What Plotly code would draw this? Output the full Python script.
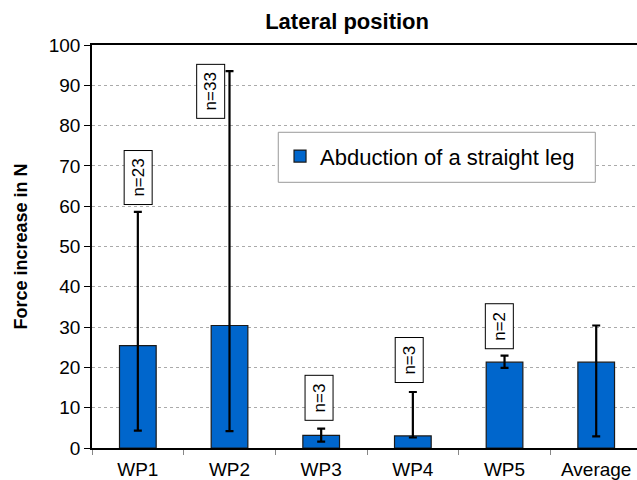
import plotly.graph_objects as go

categories = ["WP1", "WP2", "WP3", "WP4", "WP5", "Average"]
values = [25.4, 30.4, 3.15, 3.0, 21.3, 21.3]
err_upper = [58.6, 93.5, 4.8, 13.9, 22.9, 30.4]
err_lower = [4.3, 4.2, 1.6, 2.6, 19.9, 2.9]
n_labels = ["n=23", "n=33", "n=3", "n=3", "n=2"]
n_label_y = [67.2, 88.5, 12.5, 21.8, 30.1]
n_label_shift = [0, -19, -2, -4, -5]
series_name = "Abduction of a straight leg"
yticks = list(range(0, 101, 10))

FONT = "Liberation Sans, Arial, sans-serif"

plus = [u - v for u, v in zip(err_upper, values)]
minus = [v - l for v, l in zip(values, err_lower)]

fig = go.Figure()
fig.add_trace(go.Bar(
    x=categories, y=values, name=series_name, width=0.4,
    marker=dict(color="#0066CC", line=dict(color="#1a1a1a", width=1.2)),
    error_y=dict(type="data", symmetric=False, array=plus, arrayminus=minus,
                 color="black", thickness=2.2, width=4),
    showlegend=True,
))

for cat, txt, yy, sh in zip(categories, n_labels, n_label_y, n_label_shift):
    fig.add_annotation(
        x=cat, y=yy, text="\u2009" + txt + "\u2009", showarrow=False, textangle=-90, xshift=sh,
        font=dict(family=FONT, size=17, color="black"),
        bordercolor="black", borderwidth=1, borderpad=4, bgcolor="white",
    )

# legend frame (white box with grey border, covering gridlines)
fig.add_shape(type="rect", xref="paper", yref="paper",
              x0=0.3418, x1=0.9235, y0=0.6593, y1=0.7834,
              line=dict(color="#999999", width=1), fillcolor="white", layer="above")

fig.update_layout(
    width=637, height=480,
    margin=dict(l=92, r=0, t=45, b=32, autoexpand=False),
    paper_bgcolor="white", plot_bgcolor="white",
    font=dict(family=FONT, color="black"),
    title=dict(text="<b>Lateral position</b>", x=0.468, xref="paper", xanchor="center",
               y=0.956, yanchor="middle", font=dict(family=FONT, size=22, color="black")),
    legend=dict(x=0.345, y=0.776, xanchor="left", yanchor="top",
                borderwidth=0, bgcolor="rgba(0,0,0,0)",
                font=dict(family=FONT, size=22, color="black")),
    bargap=0.6,
)
fig.update_xaxes(
    range=[-0.5, 5.445], showline=True, linecolor="black", linewidth=1.5, mirror=True,
    ticks="outside", tickson="boundaries", ticklen=5, tickcolor="#888888",
    tickfont=dict(family=FONT, size=19, color="black"), showgrid=False, automargin=False,
    ticklabelstandoff=3,
)
fig.update_yaxes(
    range=[0, 100], tickvals=yticks, showline=True, linecolor="black", linewidth=1.5,
    ticks="outside", ticklen=6, tickcolor="black",
    tickfont=dict(family=FONT, size=19, color="black"),
    showgrid=True, gridcolor="#aaaaaa", griddash="dot", gridwidth=1,
    zeroline=False, automargin=False,
    title=dict(text="<b>Force increase in N</b>", font=dict(family=FONT, size=18, color="black"),
               standoff=16),
)
fig.write_html("out.html", post_script="document.body.style.margin='0';",
               config={"displayModeBar": False})
